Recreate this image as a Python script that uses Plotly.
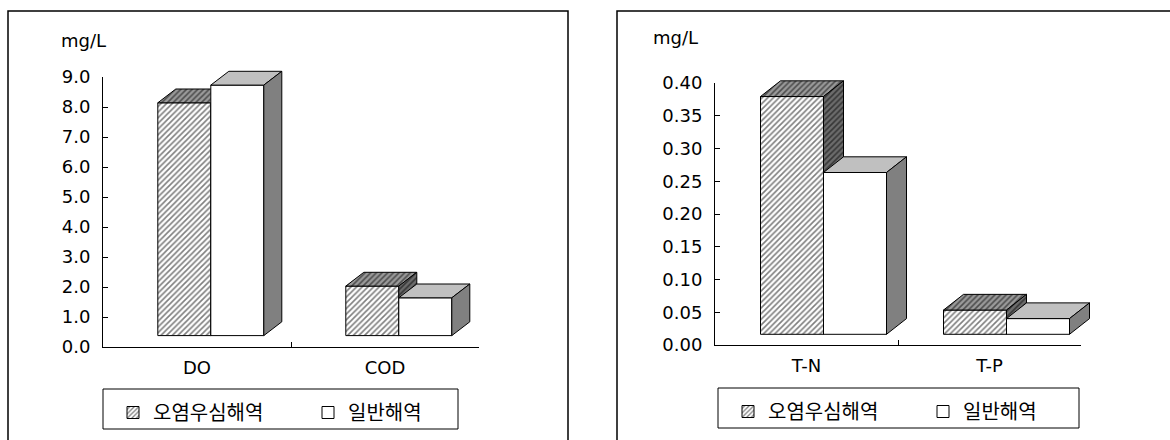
import plotly.graph_objects as go

W, H = 1170, 440

# ---- data -----------------------------------------------------------------
SERIES = ["오염우심해역", "일반해역"]
UNIT = "mg/L"

LEFT_CATS = ["DO", "COD"]
LEFT_POLLUTED = [7.76, 1.65]
LEFT_GENERAL = [8.35, 1.26]
LEFT_TICKS = [0.0, 1.0, 2.0, 3.0, 4.0, 5.0, 6.0, 7.0, 8.0, 9.0]

RIGHT_CATS = ["T-N", "T-P"]
RIGHT_POLLUTED = [0.363, 0.037]
RIGHT_GENERAL = [0.247, 0.024]
RIGHT_TICKS = [0.00, 0.05, 0.10, 0.15, 0.20, 0.25, 0.30, 0.35, 0.40]

# ---- styling ----------------------------------------------------------------
TEXT_FONT = dict(family="DejaVu Sans", size=18, color="black")
LEGEND_FONT = dict(family="Noto Sans CJK KR", size=20, color="black")
HATCH = dict(shape="/", fgcolor="black", size=4, solidity=0.4)
EXT = 40  # extra room (px) around the column layer so the 3-D faces are not clipped

# face colours per series: (front, top, side)
FACES = [
    ("white", "#9a9a9a", "#6c6c6c"),   # hatched series
    ("white", "#c0c0c0", "#808080"),   # plain series
]

# pixel layout of each panel
PANELS = [
    dict(cats=LEFT_CATS, values=(LEFT_POLLUTED, LEFT_GENERAL), ticks=LEFT_TICKS,
         fmt=".1f", plot=(103, 479, 77, 347), floor=(13.8, 11.4), depth=(18, 13.8),
         bar_px=53, border=(8, 568), legend_box=(103, 389, 458, 429),
         unit_xy=(83, 40), legend="legend", axes=(1, 2, 3)),
    dict(cats=RIGHT_CATS, values=(RIGHT_POLLUTED, RIGHT_GENERAL), ticks=RIGHT_TICKS,
         fmt=".2f", plot=(715, 1081, 83, 345), floor=(17, 10.7), depth=(20, 15.7),
         bar_px=63, border=(617, 1185), legend_box=(718, 388, 1079, 428),
         unit_xy=(675.5, 37), legend="legend2", axes=(4, 5, 6)),
]


def px_x(v):
    return v / W


def px_y(v):
    return 1 - v / H


def ref(letter, n):
    return letter if n == 1 else f"{letter}{n}"


def key(letter, n):
    return f"{letter}axis" if n == 1 else f"{letter}axis{n}"


fig = go.Figure()
layout = {}
shapes = []
annotations = []

for p in PANELS:
    cats = p["cats"]
    n = len(cats)
    x0, x1, yt, yb = p["plot"]
    ymax = p["ticks"][-1]
    xdom = [px_x(x0), px_x(x1)]
    ydom = [px_y(yb), px_y(yt)]
    ux = n / (x1 - x0)            # x data units per pixel
    uy = ymax / (yb - yt)         # y data units per pixel
    vis, a1, a2 = p["axes"]
    vx, vy = ref("x", vis), ref("y", vis)

    # visible category / value axes
    layout[key("x", vis)] = dict(
        domain=xdom, anchor=vy, type="category", range=[-0.5, n - 0.5],
        categoryorder="array", categoryarray=cats, tickson="boundaries",
        ticks="inside", ticklen=5, tickcolor="black", showline=True,
        linecolor="black", linewidth=1, showgrid=False, tickfont=TEXT_FONT,
        ticklabelstandoff=4, fixedrange=True, automargin=False)
    layout[key("y", vis)] = dict(
        domain=ydom, anchor=vx, range=[0, ymax], tickvals=p["ticks"],
        tickformat=p["fmt"], ticks="inside", ticklen=5, tickcolor="black",
        showline=True, linecolor="black", linewidth=1, showgrid=False,
        zeroline=False, tickfont=TEXT_FONT, ticklabelstandoff=8, fixedrange=True,
        automargin=False)
    fig.add_trace(go.Scatter(x=cats, y=[0] * n, mode="markers",
                             marker=dict(opacity=0), showlegend=False,
                             hoverinfo="skip", xaxis=vx, yaxis=vy))

    # column layers: same scale as the visible axes, shifted onto the floor,
    # with a wider domain so the receding faces may overhang the axes
    fx, fy = p["floor"]
    sx, sy = fx * ux, fy * uy
    dx, dy = p["depth"][0] * ux, p["depth"][1] * uy
    w = p["bar_px"] * ux
    cdom_x = [px_x(x0), px_x(x1 + EXT)]
    cdom_y = [px_y(yb), px_y(yt - EXT)]
    crange_x = [-0.5 - sx, n - 0.5 - sx + EXT * ux]
    crange_y = [-sy, ymax - sy + EXT * uy]
    for k, an in enumerate((a1, a2)):
        layout[key("x", an)] = dict(domain=cdom_x, anchor=ref("y", an),
                                    range=crange_x, visible=False,
                                    fixedrange=True)
        layout[key("y", an)] = dict(domain=cdom_y, anchor=ref("x", an),
                                    range=crange_y, visible=False,
                                    fixedrange=True)
        vals = p["values"][k]
        front, top, side = FACES[k]
        hatched = k == 0
        offset = -w if k == 0 else 0
        marker = dict(color=front, line=dict(color="black", width=1))
        if hatched:
            marker["pattern"] = dict(HATCH, bgcolor=front)
        fig.add_trace(go.Bar(
            x=list(range(n)), y=vals, width=w, offset=offset, name=SERIES[k],
            marker=marker, legend=p["legend"], hoverinfo="skip",
            xaxis=ref("x", an), yaxis=ref("y", an)))

        tx, ty, sxs, sys_ = [], [], [], []
        for i, v in enumerate(vals):
            xl = i + offset
            xr = xl + w
            tx += [xl, xr, xr + dx, xl + dx, xl, None]
            ty += [v, v, v + dy, v + dy, v, None]
            sxs += [xr, xr + dx, xr + dx, xr, xr, None]
            sys_ += [0, dy, v + dy, v, 0, None]
        for fx_, fy_, col in ((tx, ty, top), (sxs, sys_, side)):
            fill = dict(fill="toself", fillcolor=col)
            if hatched:
                fill["fillpattern"] = dict(HATCH, bgcolor=col)
            fig.add_trace(go.Scatter(
                x=fx_, y=fy_, mode="lines", line=dict(color="black", width=1),
                showlegend=False, hoverinfo="skip", xaxis=ref("x", an),
                yaxis=ref("y", an), **fill))

    # panel frame
    bx0, bx1 = p["border"]
    shapes.append(dict(type="rect", xref="paper", yref="paper",
                       x0=px_x(bx0), x1=px_x(bx1), y0=px_y(450), y1=px_y(11),
                       line=dict(color="black", width=1.5)))
    # legend frame
    lx0, ly0, lx1, ly1 = p["legend_box"]
    shapes.append(dict(type="rect", xref="paper", yref="paper",
                       x0=px_x(lx0), x1=px_x(lx1), y0=px_y(ly1), y1=px_y(ly0),
                       line=dict(color="black", width=1)))
    layout[p["legend"]] = dict(
        x=px_x(lx0 + 10), xanchor="left", y=px_y(ly0 + 4), yanchor="top",
        orientation="h", font=LEGEND_FONT, bgcolor="rgba(0,0,0,0)",
        borderwidth=0, entrywidth=150, entrywidthmode="pixels")
    ux_, uy_ = p["unit_xy"]
    annotations.append(dict(text=UNIT, xref="paper", yref="paper",
                            x=px_x(ux_), y=px_y(uy_), xanchor="center",
                            yanchor="middle", showarrow=False, font=TEXT_FONT))

fig.update_layout(
    width=W, height=H, margin=dict(l=0, r=0, t=0, b=0, autoexpand=False),
    paper_bgcolor="white", plot_bgcolor="rgba(0,0,0,0)",
    hovermode=False, shapes=shapes, annotations=annotations, **layout)

fig.write_html("out.html")
